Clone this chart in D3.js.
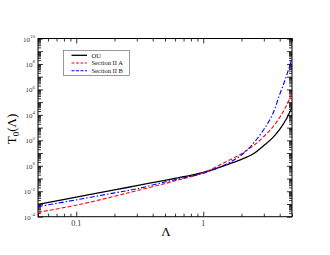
<!DOCTYPE html>
<html>
<head>
<meta charset="UTF-8">
<title>T0 vs Lambda</title>
<script src="https://d3js.org/d3.v7.min.js"></script>
<style>
body { margin:0; background:white; }
text { font-family: "Liberation Serif", serif; }
</style>
</head>
<body>
<script type="text/javascript">
// Lambda grid and T0 values
var lambda = [0.05, 0.1, 0.2, 0.3, 0.5, 0.7, 1, 1.5, 2, 2.5, 3, 3.5, 4, 4.5, 5]
var ou     = [9.3e-4, 3.5e-3, 1.26e-2, 2.75e-2, 7.2e-2, 0.138, 0.30, 1.12, 3.2, 9.3, 40, 150, 720, 4.5e3, 4.0e4]
var secA   = [2.2e-4, 8.0e-4, 4.0e-3, 1.12e-2, 4.0e-2, 0.10, 0.28, 2.0, 8.9, 40, 200, 1.0e3, 6.3e3, 5.0e4, 5.0e5]
var secB   = [6.2e-4, 2.1e-3, 7.4e-3, 1.55e-2, 5.4e-2, 0.112, 0.26, 1.26, 7.1, 63, 710, 1.0e4, 4.0e5, 1.0e7, 2.8e8]
var xTicks = [0.1, 1]
var yTicks = [1e-4, 1e-2, 1, 1e2, 1e4, 1e6, 1e8, 1e10]
var seriesNames = ["OU", "Section II A", "Section II B"]

var W = 330, H = 255
var m = {left:38, right:292, top:38.5, bottom:216.7}

var svg = d3.select("body").append("svg")
  .attr("width", W).attr("height", H)
  .style("background", "white")

var x = d3.scaleLog().domain([0.05, 5]).range([m.left, m.right])
var y = d3.scaleLog().domain([1e-4, 1e10]).range([m.bottom, m.top])

// minor ticks
var xMinor = []
;[0.01, 0.1, 1].forEach(function(d) {
  for (var k = 2; k <= 9; k++) { var v = d*k; if (v >= 0.05 && v <= 5.0001) xMinor.push(v) }
})
var yMinor = []
for (var e = -4; e < 10; e++) {
  for (var k = 2; k <= 9; k++) yMinor.push(k*Math.pow(10, e))
}
var yMajorAll = d3.range(-4, 11).map(function(e) { return Math.pow(10, e) })

function axisG(axis, tx, ty) {
  var g = svg.append("g").attr("transform", "translate(" + tx + "," + ty + ")").call(axis)
  g.select(".domain").remove()
  g.selectAll("line").attr("stroke", "#000").attr("stroke-width", 0.8)
  return g
}

// x axis bottom / top
axisG(d3.axisBottom(x).tickValues(xTicks).tickSize(-5).tickFormat(""), 0, m.bottom)
axisG(d3.axisBottom(x).tickValues(xMinor).tickSize(-3).tickFormat(""), 0, m.bottom)
axisG(d3.axisTop(x).tickValues(xTicks).tickSize(-5).tickFormat(""), 0, m.top)
axisG(d3.axisTop(x).tickValues(xMinor).tickSize(-3).tickFormat(""), 0, m.top)
// y axis left / right
axisG(d3.axisLeft(y).tickValues(yMajorAll).tickSize(-5).tickFormat(""), m.left, 0)
axisG(d3.axisLeft(y).tickValues(yMinor).tickSize(-3).tickFormat(""), m.left, 0)
axisG(d3.axisRight(y).tickValues(yMajorAll).tickSize(-5).tickFormat(""), m.right, 0)
axisG(d3.axisRight(y).tickValues(yMinor).tickSize(-3).tickFormat(""), m.right, 0)

// frame
svg.append("rect")
  .attr("x", m.left).attr("y", m.top)
  .attr("width", m.right - m.left).attr("height", m.bottom - m.top)
  .attr("fill", "none").attr("stroke", "#000").attr("stroke-width", 1)

// tick labels
svg.selectAll(".xl").data(xTicks).enter().append("text")
  .attr("x", function(d) { return x(d) }).attr("y", m.bottom + 9.5)
  .attr("text-anchor", "middle").attr("font-size", 8).attr("fill", "#333")
  .text(function(d) { return d })

var yl = svg.selectAll(".yl").data(yTicks).enter().append("text")
  .attr("x", m.left - 3).attr("y", function(d) { return y(d) + 3 })
  .attr("text-anchor", "end").attr("font-size", 7).attr("fill", "#333")
yl.append("tspan").text("10")
yl.append("tspan").attr("dy", -3.5).attr("font-size", 5)
  .text(function(d) { return Math.round(Math.log10(d)) })

// axis titles
svg.append("text").attr("x", 166).attr("y", 236)
  .attr("text-anchor", "middle").attr("font-size", 13).text("Λ")
var yt = svg.append("text").attr("transform", "translate(15.5,129) rotate(-90)")
  .attr("text-anchor", "middle").attr("font-size", 13)
yt.append("tspan").text("T")
yt.append("tspan").attr("dy", 3).attr("font-size", 9).text("0")
yt.append("tspan").attr("dy", -3).text("(Λ)")

// curves
svg.append("clipPath").attr("id", "clip").append("rect")
  .attr("x", m.left).attr("y", m.top)
  .attr("width", m.right - m.left).attr("height", m.bottom - m.top)

var line = d3.line()
  .x(function(d) { return x(d[0]) })
  .y(function(d) { return y(d[1]) })
  .curve(d3.curveCatmullRom.alpha(0.5))

var styles = [
  {color:"#000", dash:null, w:1.3},
  {color:"#ff0000", dash:"4,2", w:1.1},
  {color:"#0000ff", dash:"5,2,1.5,2", w:1.1}
]
;[ou, secA, secB].forEach(function(s, i) {
  svg.append("path")
    .datum(d3.zip(lambda, s))
    .attr("clip-path", "url(#clip)")
    .attr("fill", "none")
    .attr("stroke", styles[i].color)
    .attr("stroke-width", styles[i].w)
    .attr("stroke-dasharray", styles[i].dash)
    .attr("d", line)
})

// legend
var lg = svg.append("g")
lg.append("rect").attr("x", 63.5).attr("y", 50.5).attr("width", 66).attr("height", 25)
  .attr("fill", "white").attr("stroke", "#555").attr("stroke-width", 0.6)
seriesNames.forEach(function(n, i) {
  var yy = 55.3 + i*7.7
  lg.append("line").attr("x1", 71.5).attr("x2", 87).attr("y1", yy).attr("y2", yy)
    .attr("stroke", styles[i].color).attr("stroke-width", styles[i].w)
    .attr("stroke-dasharray", styles[i].dash ? "3,1.5" : null)
  lg.append("text").attr("x", 91.5).attr("y", yy + 2.3)
    .attr("font-size", 6.5).attr("fill", "#111").text(n)
})
</script>
</body>
</html>
